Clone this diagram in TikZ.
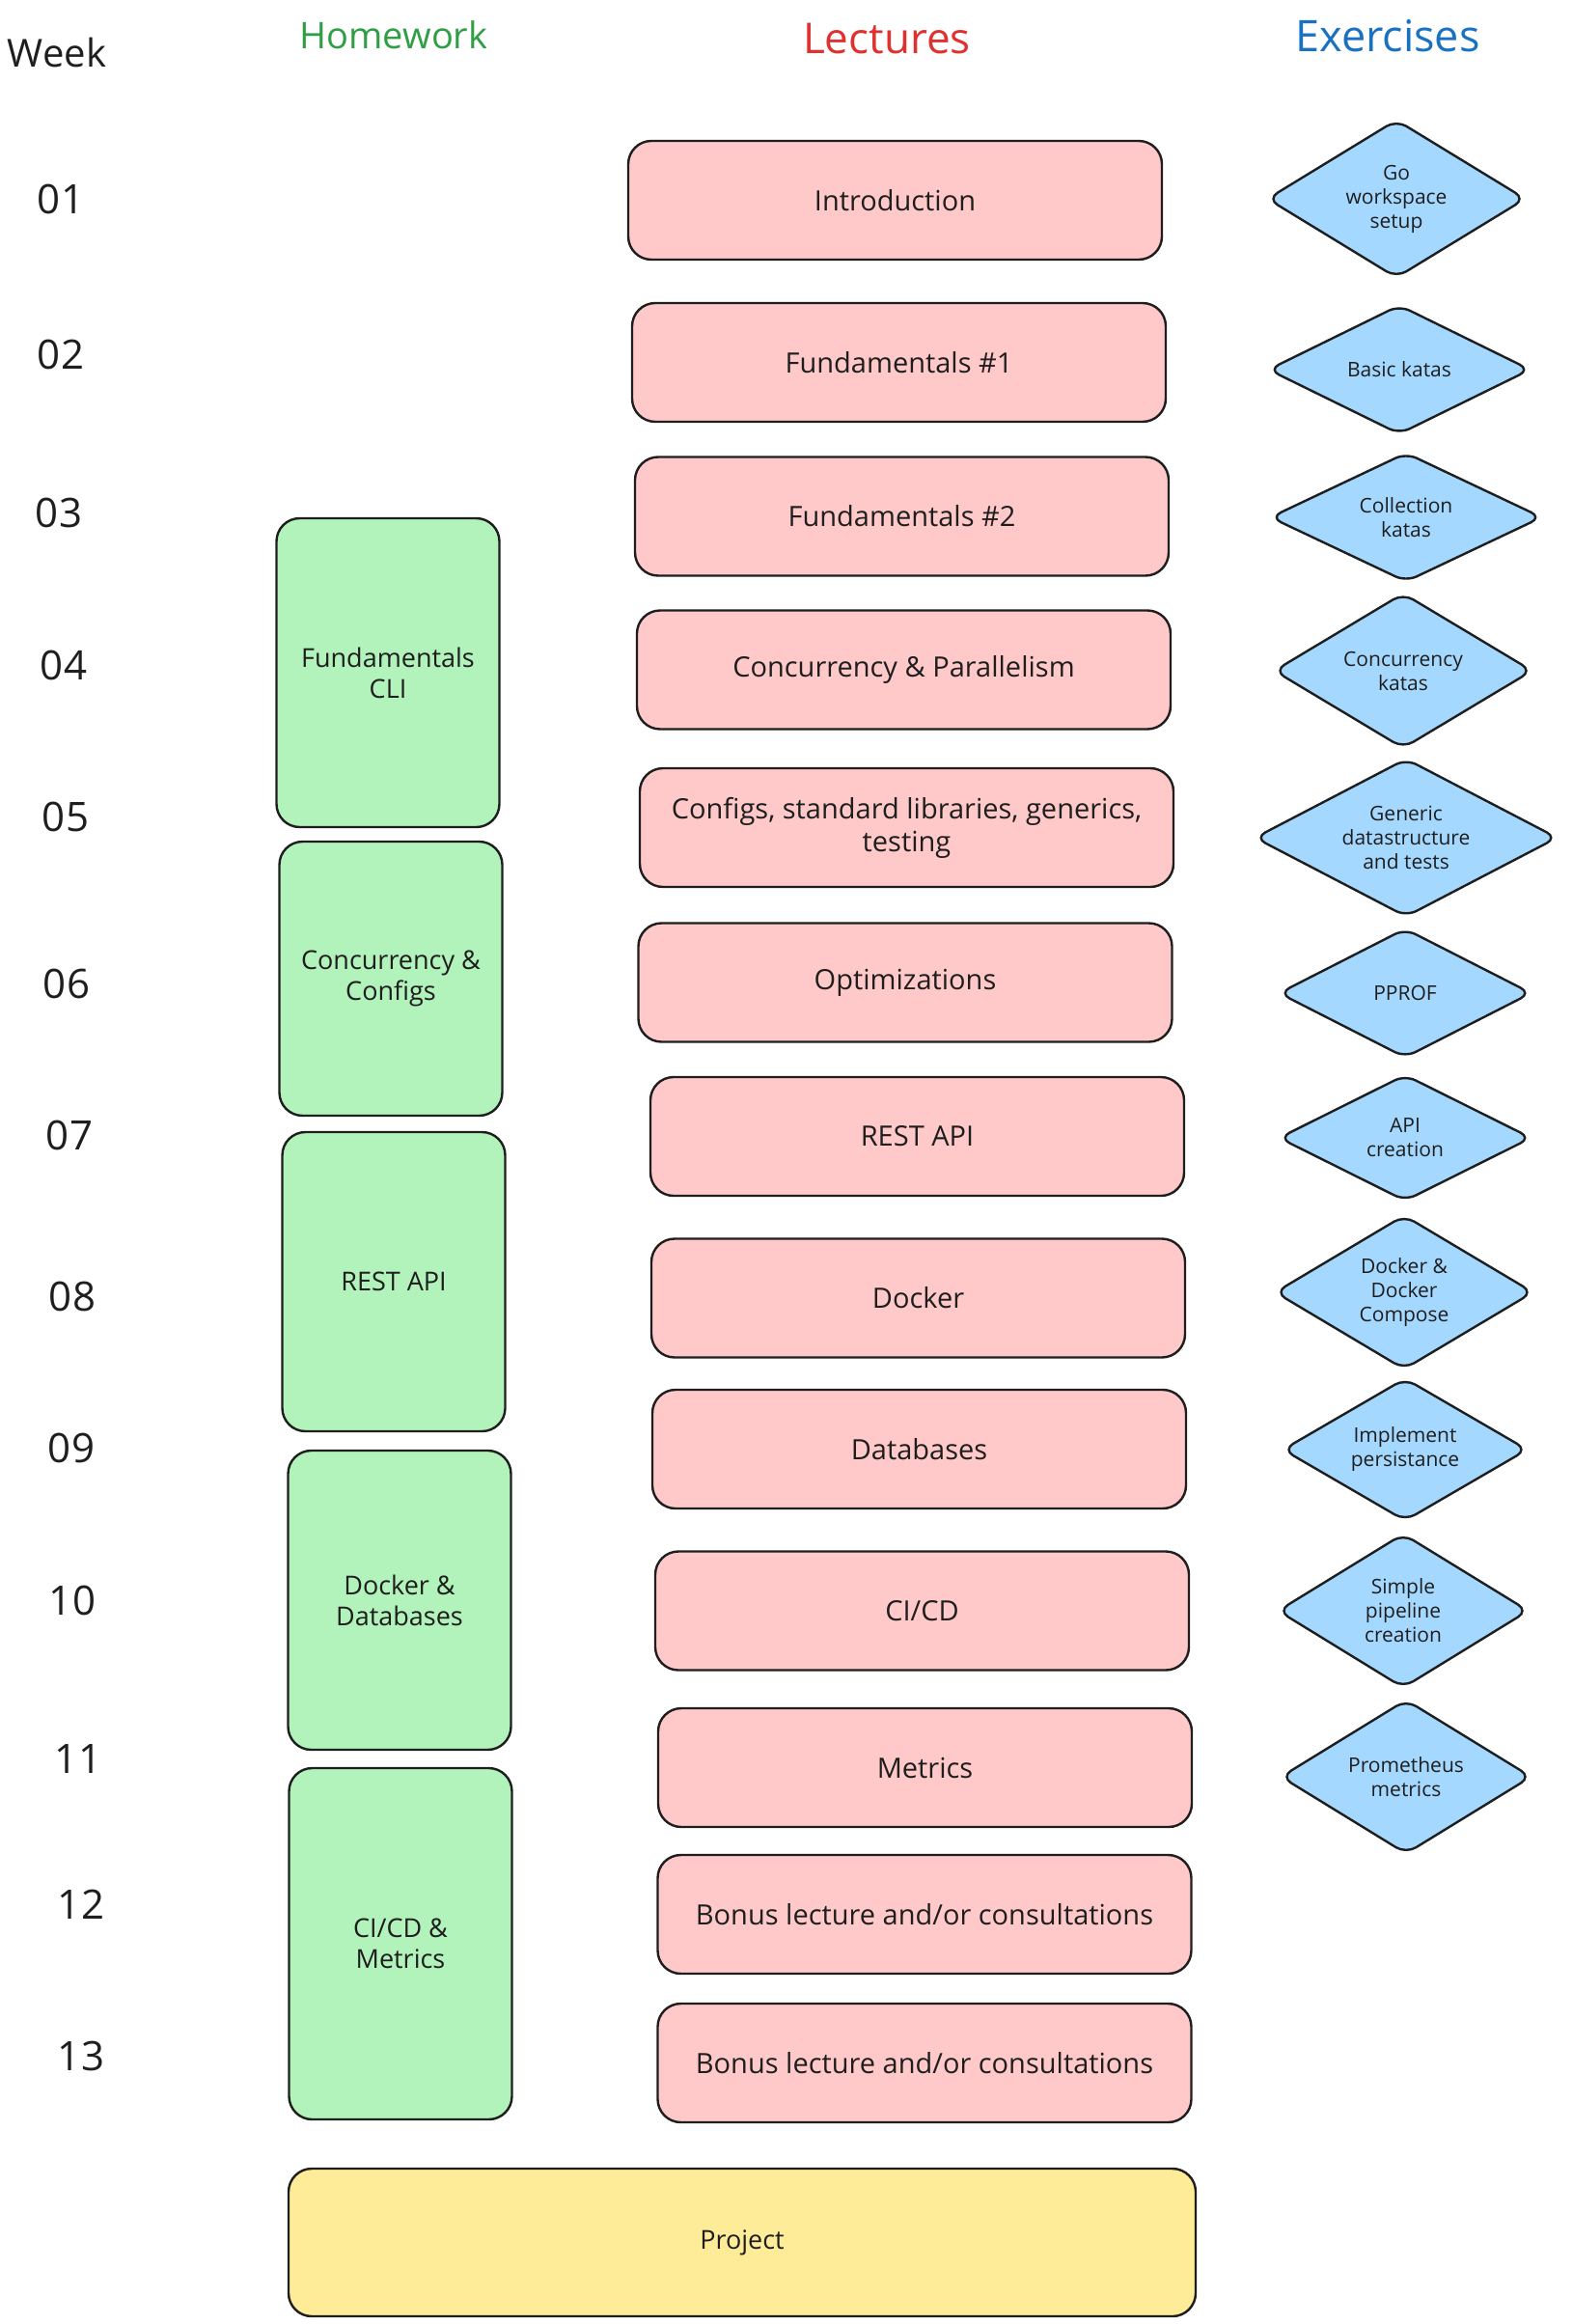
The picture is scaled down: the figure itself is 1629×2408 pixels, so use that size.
\documentclass[tikz,border=0pt]{standalone}
\usepackage{fontspec}
\setmainfont{Open Sans}
\usepackage{tikz}
\usetikzlibrary{shapes.geometric}
\definecolor{ink}{HTML}{1E1E1E}
\definecolor{lecfill}{HTML}{FFC9C9}
\definecolor{hwfill}{HTML}{B2F2BB}
\definecolor{exfill}{HTML}{A5D8FF}
\definecolor{projfill}{HTML}{FFEC99}
\definecolor{hwhead}{HTML}{2F9E44}
\definecolor{lechead}{HTML}{E03131}
\definecolor{exhead}{HTML}{1971C2}
\tikzset{
  box/.style={draw=ink, line width=1.2pt, rounded corners=12pt, inner sep=0pt,
    align=center, text=ink, font=\fontsize{13.5}{16}\selectfont},
  lecture/.style={box, fill=lecfill, minimum width=276.5pt, minimum height=61.5pt,
    font=\fontsize{14.5}{17}\selectfont},
  homework/.style={box, fill=hwfill, minimum width=115.5pt},
  project/.style={box, fill=projfill},
  exercise/.style={diamond, aspect=1.6, draw=ink, fill=exfill, line width=1.2pt,
    rounded corners=6pt, inner sep=0pt, align=center, text=ink,
    font=\fontsize{10.5}{12.5}\selectfont},
  weeknum/.style={text=ink, font=\fontsize{21}{25}\selectfont},
  header/.style={font=\fontsize{20}{24}\selectfont}
}
\begin{document}
\begin{tikzpicture}[x=0.5pt,y=-0.5pt]
\useasboundingbox (0,0) rectangle (1629,2408);
% column titles
\node[header, text=ink] (week) at (59,55) {Week};
\node[header, text=hwhead, font=\fontsize{19}{23}\selectfont] (hwtitle) at (408,36) {Homework};
\node[header, text=lechead, font=\fontsize{22}{26}\selectfont] (lectitle) at (919,40) {Lectures};
\node[header, text=exhead, font=\fontsize{22.5}{26}\selectfont] (extitle) at (1438,37) {Exercises};
% weeks
\node[weeknum] (w01) at (63,206) {01};
\node[weeknum] (w02) at (63,367) {02};
\node[weeknum] (w03) at (61,531) {03};
\node[weeknum] (w04) at (66,689) {04};
\node[weeknum] (w05) at (68,846) {05};
\node[weeknum] (w06) at (69,1019) {06};
\node[weeknum] (w07) at (72,1176) {07};
\node[weeknum] (w08) at (75,1343) {08};
\node[weeknum] (w09) at (74,1500) {09};
\node[weeknum] (w10) at (75,1658) {10};
\node[weeknum] (w11) at (81,1822) {11};
\node[weeknum] (w12) at (84,1973) {12};
\node[weeknum] (w13) at (84,2130) {13};
% lectures
\node[lecture] (lec01) at (927.5,207.5) {Introduction};
\node[lecture] (lec02) at (931.5,375.5) {Fundamentals \#1};
\node[lecture] (lec03) at (934.5,535) {Fundamentals \#2};
\node[lecture] (lec04) at (936.5,694) {Concurrency \& Parallelism};
\node[lecture] (lec05) at (939.5,857.5) {Configs, standard libraries, generics,\\testing};
\node[lecture] (lec06) at (938,1018) {Optimizations};
\node[lecture] (lec07) at (950.5,1177.5) {REST API};
\node[lecture] (lec08) at (951.5,1345) {Docker};
\node[lecture] (lec09) at (952.5,1501.5) {Databases};
\node[lecture] (lec10) at (955.5,1669) {CI/CD};
\node[lecture] (lec11) at (958.5,1831.5) {Metrics};
\node[lecture] (lec12) at (958,1983.5) {Bonus lecture and/or consultations};
\node[lecture] (lec13) at (958,2137.5) {Bonus lecture and/or consultations};
% homework
\node[homework, minimum height=160pt] (hw1) at (402,697) {Fundamentals\\CLI};
\node[homework, minimum height=142pt] (hw2) at (405,1014) {Concurrency \&\\Configs};
\node[homework, minimum height=155pt] (hw3) at (408,1328) {REST API};
\node[homework, minimum height=155pt] (hw4) at (414,1658) {Docker \&\\Databases};
\node[homework, minimum height=182pt] (hw5) at (415,2014) {CI/CD \&\\Metrics};
% exercises
\node[exercise, minimum width=134pt, minimum height=82pt] (ex01) at (1447,206) {Go\\workspace\\setup};
\node[exercise, minimum width=136pt, minimum height=67pt] (ex02) at (1450,383) {Basic katas};
\node[exercise, minimum width=141pt, minimum height=67pt] (ex03) at (1457,536) {Collection\\katas};
\node[exercise, minimum width=134pt, minimum height=80.5pt] (ex04) at (1454,695) {Concurrency\\katas};
\node[exercise, minimum width=157pt, minimum height=82pt] (ex05) at (1457,868) {Generic\\datastructure\\and tests};
\node[exercise, minimum width=131pt, minimum height=67pt] (ex06) at (1456,1029) {PPROF};
\node[exercise, minimum width=131pt, minimum height=65.5pt] (ex07) at (1456,1179) {API\\creation};
\node[exercise, minimum width=134pt, minimum height=80pt] (ex08) at (1455,1339) {Docker \&\\Docker\\Compose};
\node[exercise, minimum width=127pt, minimum height=74pt] (ex09) at (1456,1502) {Implement\\persistance};
\node[exercise, minimum width=130pt, minimum height=80pt] (ex10) at (1454,1669) {Simple\\pipeline\\creation};
\node[exercise, minimum width=130pt, minimum height=80pt] (ex11) at (1457,1841) {Prometheus\\metrics};
% project
\node[project, minimum width=470pt, minimum height=76.5pt] (proj) at (769,2323.5) {Project};
\end{tikzpicture}
\end{document}
